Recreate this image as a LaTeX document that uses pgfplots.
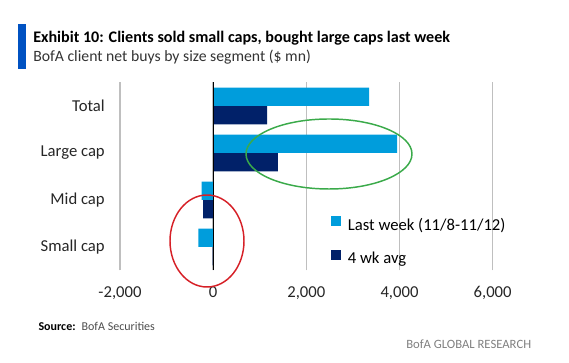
\documentclass[border=0pt]{standalone}
\usepackage{pgfplots}
\pgfplotsset{compat=1.18}
\usepackage{fontspec}
\setmainfont{Carlito}
\definecolor{lb}{HTML}{009DDC}
\definecolor{nv}{HTML}{012169}
\definecolor{bofablue}{HTML}{0052C2}
\definecolor{gridgray}{HTML}{BFBFBF}
\definecolor{ellgreen}{HTML}{3AAA4A}
\definecolor{ellred}{HTML}{D62027}
\begin{document}
\begin{tikzpicture}[x=0.75pt,y=0.75pt]
\path[use as bounding box] (0,0) rectangle (569,363);
% title block
\fill[bofablue] (18,294) rectangle (26,339);
\node[anchor=base west,inner sep=0,font=\bfseries\fontsize{12.1}{14}\selectfont] at (33,320.3) {Exhibit 10: Clients sold small caps, bought large caps last week};
\node[anchor=base west,inner sep=0,font=\fontsize{11.8}{14}\selectfont,text=black!80] at (33,301.7) {BofA client net buys by size segment (\$ mn)};
\begin{axis}[
  at={(90pt,69.375pt)}, anchor=south west,
  scale only axis, width=279.5pt, height=141pt,
  xbar, bar width=0.39,
  xmin=-2000, xmax=6000, ymin=-0.5, ymax=3.5,
  xtick={-2000,0,2000,4000,6000},
  xticklabels={{-2,000},{0},{2,000},{4,000},{6,000}},
  ytick={0,1,2,3},
  yticklabels={Small cap,Mid cap,Large cap,Total},
  xmajorgrids, grid style={gridgray,line width=1.1pt},
  axis line style={draw=none}, major tick length=0pt, tick style={draw=none},
  ticklabel style={inner sep=0pt,font=\fontsize{12.5}{14}\selectfont,text=black!85},
  yticklabel style={anchor=east,xshift=-11.25pt},
  xticklabel style={anchor=base,yshift=-20.3pt},
  legend image code/.code={\fill[#1,draw=none] (0pt,-0.5pt) rectangle (7.5pt,7pt);},
  legend cell align=left,
  legend style={at={(0.566,0.152)},anchor=west,draw=none,fill=none,inner sep=0pt,
    font=\fontsize{12.5}{14}\selectfont,row sep=10.75pt,
    /tikz/every odd column/.append style={column sep=3pt}},
]
\addplot[fill=lb,draw=none,bar shift=0.197] coordinates {(-316,0) (-250,1) (3948,2) (3346,3)};
\addplot[fill=nv,draw=none,bar shift=-0.197] coordinates {(-10,0) (-215,1) (1390,2) (1161,3)};
\draw[black,line width=0.9pt] (axis cs:0,-0.5) -- (axis cs:0,3.5);
\legend{Last week (11/8-11/12),4 wk avg}
\end{axis}
% annotations
\draw[ellgreen,line width=1.1pt] (329,209) ellipse [x radius=83,y radius=35];
\draw[ellred,line width=1.1pt] (207,122) ellipse [x radius=37,y radius=46];
% source
\node[anchor=base west,inner sep=0,font=\fontsize{9}{11}\selectfont] at (38.3,32) {\textbf{Source:}\enspace\textcolor{black!70}{BofA Securities}};
\node[anchor=base west,inner sep=0,font=\fontsize{9.5}{11}\selectfont,text=black!50] at (406,14) {BofA GLOBAL RESEARCH};
\end{tikzpicture}
\end{document}
